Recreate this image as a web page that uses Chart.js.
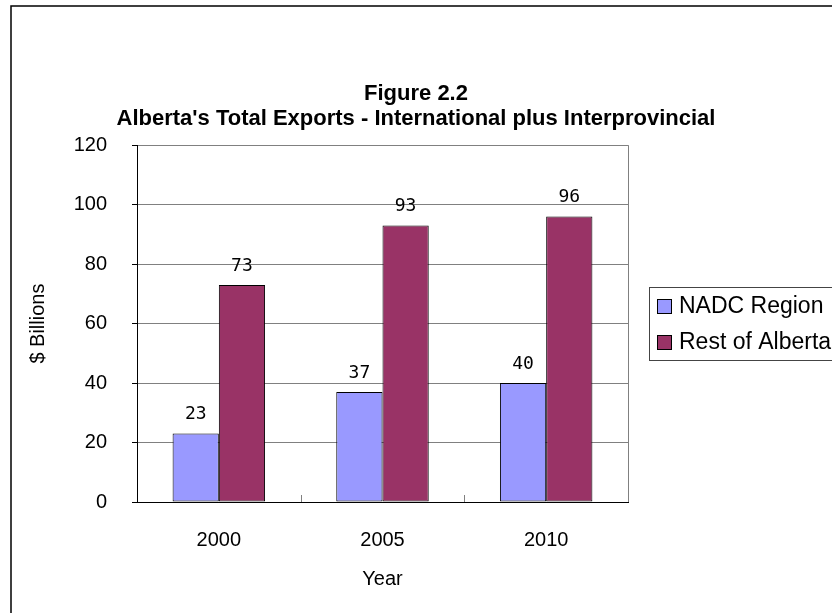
<!DOCTYPE html>
<html>
<head>
<meta charset="utf-8">
<script src="https://cdn.jsdelivr.net/npm/chart.js@4.4.1/dist/chart.umd.min.js"></script>
<style>
  html, body { margin: 0; padding: 0; background: #fff; }
  #wrap { width: 832px; height: 613px; }
</style>
</head>
<body>
<div id="wrap"><canvas id="grafico" width="832" height="613"></canvas></div>
<script>
const anos = ['2000', '2005', '2010'];
const nadc = [23, 37, 40];
const restoAlberta = [73, 93, 96];
const yTicks = [0, 20, 40, 60, 80, 100, 120];

const fonte = "'Liberation Sans', Arial, sans-serif";

// moldura externa, borda do grafico e marcas entre categorias
const molduraPlugin = {
  id: 'moldura',
  afterLayout(chart) {
    // titulo centrado na largura toda, como no original
    if (chart.titleBlock) {
      chart.titleBlock.left = 0;
      chart.titleBlock.right = chart.width;
      chart.titleBlock.width = chart.width;
    }
  },
  beforeDraw(chart) {
    const ctx = chart.ctx;
    ctx.save();
    ctx.strokeStyle = '#000';
    ctx.lineWidth = 1.5;
    ctx.strokeRect(11, 6, 900, 700);
    ctx.restore();
  },
  afterDatasetsDraw(chart) {
    const ctx = chart.ctx;
    const area = chart.chartArea;
    const x = chart.scales.x;
    ctx.save();
    ctx.strokeStyle = '#808080';
    ctx.lineWidth = 1;
    ctx.beginPath();
    ctx.moveTo(Math.round(area.right) + 0.5, area.top);
    ctx.lineTo(Math.round(area.right) + 0.5, area.bottom);
    for (let i = 0; i < anos.length - 1; i++) {
      const px = Math.round((x.getPixelForValue(i) + x.getPixelForValue(i + 1)) / 2) + 0.5;
      ctx.moveTo(px, area.bottom);
      ctx.lineTo(px, area.bottom - 7);
    }
    ctx.stroke();
    ctx.restore();
  }
};

// rotulos de valor acima das barras
const rotulosPlugin = {
  id: 'rotulos',
  afterDatasetsDraw(chart) {
    const ctx = chart.ctx;
    ctx.save();
    ctx.fillStyle = '#000';
    ctx.font = "18px 'DejaVu Sans Mono', monospace";
    ctx.textAlign = 'center';
    ctx.textBaseline = 'bottom';
    chart.data.datasets.forEach((ds, i) => {
      chart.getDatasetMeta(i).data.forEach((bar, j) => {
        ctx.fillText(String(ds.data[j]), bar.x, bar.y - 10);
      });
    });
    ctx.restore();
  }
};

// legenda com caixa, como no original
const legendaPlugin = {
  id: 'legendaCaixa',
  afterDraw(chart) {
    const ctx = chart.ctx;
    ctx.save();
    ctx.strokeStyle = '#444';
    ctx.lineWidth = 1;
    ctx.strokeRect(649.5, 287.5, 300, 73);
    ctx.font = '23px ' + fonte;
    ctx.textBaseline = 'middle';
    ctx.textAlign = 'left';
    chart.data.datasets.forEach((ds, i) => {
      const cy = 307 + i * 36;
      ctx.fillStyle = ds.backgroundColor;
      ctx.fillRect(657.5, cy - 7.5, 14, 14);
      ctx.strokeStyle = '#000';
      ctx.strokeRect(657.5, cy - 7.5, 14, 14);
      ctx.fillStyle = '#000';
      ctx.fillText(ds.label, 679, cy);
    });
    ctx.restore();
  }
};

const ctx = document.getElementById('grafico').getContext('2d');
new Chart(ctx, {
  type: 'bar',
  data: {
    labels: anos,
    datasets: [
      {
        label: 'NADC Region',
        data: nadc,
        backgroundColor: '#9999FF',
        borderColor: '#000',
        borderWidth: 1,
        borderSkipped: false
      },
      {
        label: 'Rest of Alberta',
        data: restoAlberta,
        backgroundColor: '#993366',
        borderColor: '#000',
        borderWidth: 1,
        borderSkipped: false
      }
    ]
  },
  options: {
    responsive: false,
    animation: false,
    devicePixelRatio: 1,
    layout: { padding: { left: 20, right: 204, top: 6, bottom: 10 } },
    datasets: { bar: { categoryPercentage: 0.565, barPercentage: 1 } },
    scales: {
      x: {
        afterFit: s => { s.height = 101; },
        grid: { display: false, drawTicks: false },
        border: { display: true, color: '#000', width: 1 },
        ticks: { color: '#000', padding: 26, font: { family: fonte, size: 20 } },
        title: {
          display: true, text: 'Year', color: '#000',
          font: { family: fonte, size: 20 }, padding: { top: 0, bottom: 12 }
        }
      },
      y: {
        min: 0,
        max: 120,
        afterFit: s => { s.width = 117; },
        afterBuildTicks: s => { s.ticks = yTicks.map(v => ({ value: v })); },
        grid: { color: '#808080', tickLength: 5, tickColor: '#000' },
        border: { display: true, color: '#000', width: 1 },
        ticks: { color: '#000', padding: 25, font: { family: fonte, size: 20 } },
        title: {
          display: true, text: '$ Billions', color: '#000',
          font: { family: fonte, size: 20 }, padding: { top: 6, bottom: 0 }
        }
      }
    },
    plugins: {
      legend: { display: false },
      tooltip: { enabled: false },
      title: {
        display: true,
        text: ['Figure 2.2', "Alberta's Total Exports - International plus Interprovincial"],
        color: '#000',
        font: { family: fonte, size: 22, weight: 'bold', lineHeight: 1.14 },
        padding: { top: 75, bottom: 14 }
      }
    }
  },
  plugins: [molduraPlugin, rotulosPlugin, legendaPlugin]
});
</script>
</body>
</html>
